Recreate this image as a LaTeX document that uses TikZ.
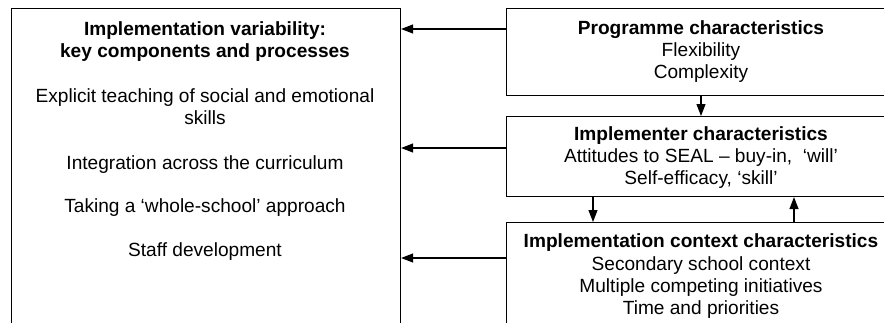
\documentclass[tikz,border=0pt]{standalone}
\usepackage{fontspec}
\setmainfont{Liberation Sans}
\usetikzlibrary{arrows.meta}
\begin{document}
\begin{tikzpicture}[x=1pt,y=-1pt,
  box/.style={draw,line width=1.1pt,inner sep=0pt},
  txt/.style={align=center,font=\fontsize{19.1}{22.3}\selectfont},
  arr/.style={-{Triangle[length=12pt,width=9pt]},line width=1.1pt}]
  \useasboundingbox (0,0) rectangle (884,322);
  \clip (0,0) rectangle (884,322);
  % boxes
  \node[box,anchor=north west,minimum width=389pt,minimum height=380pt] (var) at (11,8) {};
  \node[box,anchor=north west,minimum width=390pt,minimum height=87pt] (prog) at (506,8) {};
  \node[box,anchor=north west,minimum width=390pt,minimum height=80pt] (impl) at (506,116) {};
  \node[box,anchor=north west,minimum width=390pt,minimum height=150pt] (ctx) at (506,222) {};
  % texts
  \node[txt] (vartxt) at (205,141) {\textbf{Implementation variability:}\\
    \textbf{key components and processes}\\[22.5pt]
    Explicit teaching of social and emotional\\ skills\\[22.5pt]
    Integration across the curriculum\\[20.5pt]
    Taking a `whole-school' approach\\[21.5pt]
    Staff development};
  \node[txt] (progtxt) at (701,51.5) {\textbf{Programme characteristics}\\ Flexibility\\ Complexity};
  \node[txt] (impltxt) at (701,157.5) {\textbf{Implementer characteristics}\\ Attitudes to SEAL -- buy-in,~ `will'\\ Self-efficacy, `skill'};
  \node[txt] (ctxtxt) at (701,276.5) {\textbf{Implementation context characteristics}\\ Secondary school context\\ Multiple competing initiatives\\ Time and priorities};
  % arrows
  \foreach \b/\y in {prog/29,impl/148,ctx/258}
    \draw[arr] (\b.west |- 0,\y) -- (var.east |- 0,\y);
  \draw[arr] (prog.south -| 701,0) -- (impl.north -| 701,0);
  \draw[arr] (impl.south -| 593,0) -- (ctx.north -| 593,0);
  \draw[arr] (ctx.north -| 794,0) -- (impl.south -| 794,0);
\end{tikzpicture}
\end{document}
